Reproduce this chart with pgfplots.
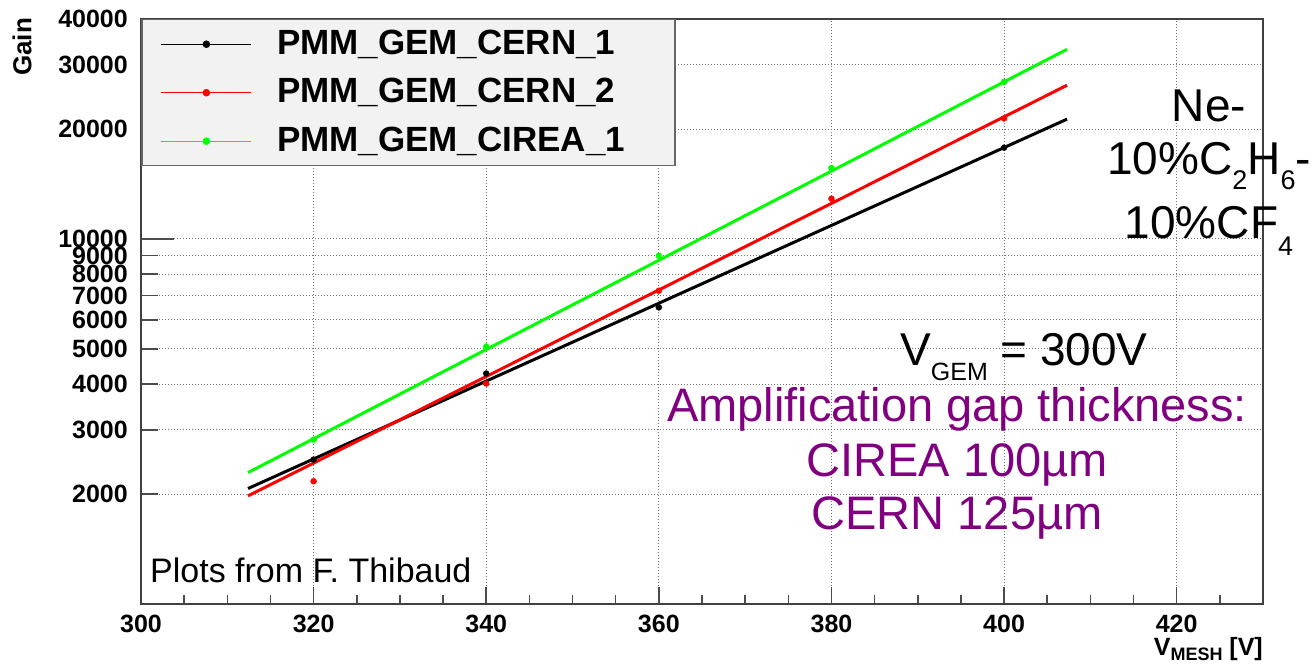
\documentclass[border=0pt]{standalone}
\usepackage{pgfplots}
\pgfplotsset{compat=1.18}
\usepackage{fontspec}
\setmainfont{Liberation Sans}
\definecolor{rootgreen}{RGB}{0,255,0}
\definecolor{rootred}{RGB}{255,0,0}
\definecolor{annpurple}{RGB}{128,0,128}
\definecolor{legfill}{RGB}{242,242,242}
\newcommand{\fs}[1]{\fontsize{#1bp}{#1bp}\selectfont}

\pgfplotsset{
  legimg/.style={
    legend image code/.code={
      \draw[sharp plot, line width=1.3bp, mark=none]
        plot coordinates {(0bp,0bp) (90bp,0bp)};
      \draw[only marks, mark=*, mark size=3bp]
        plot coordinates {(45bp,0bp)};
    }
  }
}

\begin{document}
\begin{tikzpicture}
\path[use as bounding box] (0,0) rectangle (1316bp,665bp);
\begin{axis}[
  at={(141bp,61bp)}, anchor=south west,
  scale only axis, width=1122bp, height=585bp,
  xmin=300, xmax=430, ymode=log, ymin=1000, ymax=40000,
  clip=false,
  axis line style={black!75, line width=1.5bp},
  tick pos=left, tick align=inside,
  every tick/.style={black!70, line width=1.5bp},
  major tick length=17bp, minor tick length=9bp,
  xtick={300,320,340,360,380,400,420},
  xticklabels={300,320,340,360,380,400,420},
  minor xtick={305,310,315,325,330,335,345,350,355,365,370,375,385,390,395,405,410,415,425},
  ytick={2000,3000,4000,5000,6000,7000,8000,9000,20000,30000,40000},
  yticklabels={2000,3000,4000,5000,6000,7000,8000,9000,20000,30000,40000},
  extra y ticks={10000}, extra y tick labels={10000},
  extra y tick style={major tick length=33bp, grid=major},
  grid=major,
  major grid style={black!55, line width=0.8bp, dash pattern=on 1bp off 2bp},
  xticklabel style={font=\fs{25}\bfseries, inner sep=0pt, anchor=north, yshift=-11bp},
  yticklabel style={font=\fs{25}\bfseries, inner sep=0pt, anchor=east, xshift=-13bp},
  xlabel={V\raisebox{-5bp}{\fs{18}MESH} [V]},
  xlabel style={at={(rel axis cs:1,-0.0889)}, anchor=base east, inner sep=0pt, font=\fs{25}\bfseries},
  ylabel={Gain},
  ylabel style={at={(rel axis cs:-0.1061,1.002)}, anchor=east, inner sep=0pt, font=\fs{26}\bfseries},
  legend style={at={(rel axis cs:0,1)}, anchor=north west, fill=legfill, draw=black!60,
    line width=1.5bp, inner xsep=19bp, inner ysep=7.5bp, row sep=14.5bp, column sep=25bp,
    font=\fs{35}\bfseries,
    nodes={inner sep=0pt, text height=27bp, text depth=7bp, text width=379bp}},
  legend cell align=left,
]
% exponential fits
\addplot[black, line width=3bp, forget plot] coordinates {(312.4,2071) (407.3,21270)};
\addplot[rootred, line width=3bp, forget plot] coordinates {(312.4,1977) (407.3,26340)};
\addplot[rootgreen, line width=3bp, forget plot] coordinates {(312.4,2290) (407.3,33040)};
% measured gains
\addplot[black, only marks, mark=*, mark size=3bp, legimg]
  coordinates {(320,2485) (340,4277) (360,6490) (400,17770)};
\addlegendentry{PMM\_GEM\_CERN\_1}
\addplot[rootred, only marks, mark=*, mark size=3bp, legimg]
  coordinates {(320,2168) (340,4016) (360,7210) (380,12880) (400,21370)};
\addlegendentry{PMM\_GEM\_CERN\_2}
\addplot[rootgreen, only marks, mark=*, mark size=3bp, legimg]
  coordinates {(320,2818) (340,5070) (360,8987) (380,15630) (400,26900)};
\addlegendentry{PMM\_GEM\_CIREA\_1}

% gas mixture
\node[anchor=base, font=\fs{46}] at (rel axis cs:0.9519,0.8239) {Ne-};
\node[anchor=base, font=\fs{46}] at (rel axis cs:0.9519,0.7333)
  {10\%C\raisebox{-15bp}{\fs{27}2}H\raisebox{-15bp}{\fs{27}6}-};
\node[anchor=base, font=\fs{46}] at (rel axis cs:0.9519,0.6256)
  {10\%CF\raisebox{-17bp}{\fs{27}4}};
% operating conditions
\node[anchor=base west, inner sep=0pt, font=\fs{46}] at (rel axis cs:0.6765,0.4085)
  {V\raisebox{-15bp}{\fs{25}GEM} = 300V};
\node[anchor=base, text=annpurple, font=\fs{47}] at (rel axis cs:0.7273,0.3116) {Amplification gap thickness:};
\node[anchor=base, text=annpurple, font=\fs{47}] at (rel axis cs:0.7273,0.2176) {CIREA 100µm};
\node[anchor=base, text=annpurple, font=\fs{47}] at (rel axis cs:0.7273,0.1265) {CERN 125µm};
\node[anchor=base west, inner sep=0pt, font=\fs{34}] at (rel axis cs:0.00802,0.0359) {Plots from F. Thibaud};
\end{axis}
\end{tikzpicture}
\end{document}
